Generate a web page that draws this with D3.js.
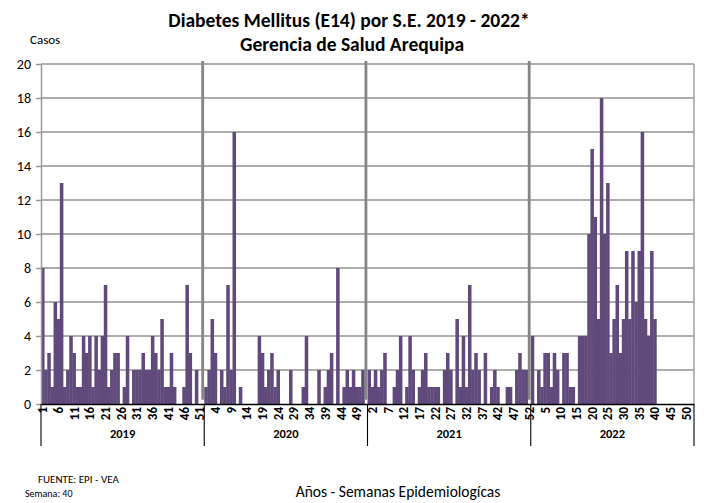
<!DOCTYPE html>
<html>
<head>
<meta charset="utf-8">
<script src="https://cdn.jsdelivr.net/npm/d3@7/dist/d3.min.js"></script>
<style>
  body { margin: 0; background: #fff; }
  text { font-family: Carlito, Calibri, Lato, sans-serif; fill: #000; }
</style>
</head>
<body>
<div id="chart"></div>
<script>
// Data: cases per epidemiological week

const years = ['2019', '2020', '2021', '2022']

const cases2019 = [8, 2, 3, 1, 6, 5, 13, 1, 2, 4,
  3, 1, 1, 4, 3, 4, 1, 4, 2, 4,
  7, 1, 2, 3, 3, 0, 1, 4, 0, 2,
  2, 2, 3, 2, 2, 4, 3, 2, 5, 1,
  1, 3, 1, 0, 0, 1, 7, 3, 0, 2,
  0, 0]

const cases2020 = [1, 2, 5, 3, 0, 2, 1, 7, 2, 16,
  0, 1, 0, 0, 0, 0, 0, 4, 3, 1,
  2, 3, 1, 2, 0, 0, 0, 2, 0, 0,
  0, 1, 4, 0, 0, 0, 2, 0, 1, 2,
  3, 0, 8, 0, 1, 2, 1, 2, 1, 1,
  2, 0]

const cases2021 = [2, 1, 2, 1, 2, 3, 0, 0, 1, 2,
  4, 0, 1, 4, 2, 0, 1, 2, 3, 1,
  1, 1, 1, 0, 2, 3, 2, 0, 5, 1,
  4, 1, 7, 2, 3, 2, 0, 3, 0, 1,
  2, 1, 0, 0, 1, 1, 0, 2, 3, 2,
  2, 0]

// 2022 only up to week 40
const cases2022 = [4, 0, 2, 1, 3, 3, 1, 3, 2, 0,
  3, 3, 1, 1, 0, 4, 4, 4, 10, 15,
  11, 5, 18, 10, 13, 3, 5, 7, 3, 5,
  9, 5, 9, 6, 9, 16, 5, 4, 9, 5]

const yTicks = [0, 2, 4, 6, 8, 10, 12, 14, 16, 18, 20]
const weeksPerYear = 52

const margin = { top: 64, left: 41, right: 10, bottom: 99 }
const width = 704 - margin.left - margin.right
const height = 503 - margin.top - margin.bottom

const svg = d3
  .select('#chart')
  .append('svg')
  .attr('width', 704)
  .attr('height', 503)

const g = svg
  .append('g')
  .attr('transform', 'translate(' + margin.left + ',' + margin.top + ')')

// build one row per week
const allCases = [cases2019, cases2020, cases2021, cases2022]
const datapoints = []
years.forEach(function(year, i) {
  for (let w = 1; w <= weeksPerYear; w++) {
    datapoints.push({
      year: year,
      week: w,
      key: year + '-' + w,
      cases: allCases[i][w - 1]
    })
  }
})

const xPositionScale = d3
  .scaleBand()
  .domain(datapoints.map(d => d.key))
  .range([0, width])
  .padding(0)

const yPositionScale = d3
  .scaleLinear()
  .domain([0, 20])
  .range([height, 0])

const bw = xPositionScale.bandwidth()

// gridlines
g.selectAll('.grid')
  .data(yTicks.filter(d => d > 0))
  .enter()
  .append('line')
  .attr('x1', 0)
  .attr('x2', width)
  .attr('y1', d => yPositionScale(d))
  .attr('y2', d => yPositionScale(d))
  .attr('stroke', '#939393')
  .attr('stroke-width', 1.5)

// right border of plot
g.append('line')
  .attr('x1', width)
  .attr('x2', width)
  .attr('y1', 0)
  .attr('y2', height)
  .attr('stroke', '#a3a3a3')
  .attr('stroke-width', 1.5)

// bars
g.selectAll('.bar')
  .data(datapoints.filter(d => d.cases != null && d.cases > 0))
  .enter()
  .append('rect')
  .attr('class', 'bar')
  .attr('x', d => xPositionScale(d.key))
  .attr('width', bw + 0.4)
  .attr('y', d => yPositionScale(d.cases))
  .attr('height', d => height - yPositionScale(d.cases))
  .attr('fill', '#604a7b')

// gray separators at the last week of each year
g.selectAll('.sep')
  .data(years.slice(0, 3))
  .enter()
  .append('line')
  .attr('x1', d => xPositionScale(d + '-' + weeksPerYear) + bw / 2)
  .attr('x2', d => xPositionScale(d + '-' + weeksPerYear) + bw / 2)
  .attr('y1', yPositionScale(20) - 3)
  .attr('y2', yPositionScale(0.25))
  .attr('stroke', '#858585')
  .attr('stroke-width', 2.8)

// y axis
const yAxis = d3
  .axisLeft(yPositionScale)
  .tickValues(yTicks)
  .tickSize(5)
  .tickSizeOuter(0)
  .tickPadding(5)

g.append('g')
  .attr('class', 'y-axis')
  .call(yAxis)
  .call(a => a.selectAll('line, path').attr('stroke', '#9a9a9a').attr('stroke-width', 1.5))
  .call(a => a.selectAll('text').attr('font-size', 14).attr('fill', '#000'))

// x axis: week numbers every 5th position
const xAxis = d3
  .axisBottom(xPositionScale)
  .tickValues(datapoints.filter((d, i) => i % 5 === 0).map(d => d.key))
  .tickFormat(k => k.split('-')[1])
  .tickSize(0)
  .tickSizeOuter(0)

g.append('g')
  .attr('class', 'x-axis')
  .attr('transform', 'translate(0,' + height + ')')
  .call(xAxis)
  .call(a => a.select('.domain').attr('stroke', '#000').attr('stroke-width', 1.3))
  .call(a =>
    a
      .selectAll('text')
      .attr('transform', 'rotate(-90)')
      .attr('text-anchor', 'end')
      .attr('x', -3)
      .attr('y', 0)
      .attr('dy', '0.36em')
      .attr('font-size', 13)
      .attr('font-weight', 'bold')
  )

// year group dividers and labels
const dividers = years.map(y => xPositionScale(y + '-1')).concat([width])
g.selectAll('.divider')
  .data(dividers)
  .enter()
  .append('line')
  .attr('x1', d => d)
  .attr('x2', d => d)
  .attr('y1', height)
  .attr('y2', height + 42)
  .attr('stroke', '#000')
  .attr('stroke-width', 1.1)

g.selectAll('.year-label')
  .data(years)
  .enter()
  .append('text')
  .text(d => d)
  .attr('x', d => (xPositionScale(d + '-1') + xPositionScale(d + '-' + weeksPerYear) + bw) / 2)
  .attr('y', height + 34)
  .attr('text-anchor', 'middle')
  .attr('font-size', 12.5)
  .attr('font-weight', 'bold')

// titles and notes
svg.append('text')
  .text('Diabetes Mellitus (E14) por S.E. 2019 - 2022*')
  .attr('x', 349)
  .attr('y', 27)
  .attr('text-anchor', 'middle')
  .attr('font-size', 19.5)
  .attr('font-weight', 'bold')

svg.append('text')
  .text('Gerencia de Salud Arequipa')
  .attr('x', 352)
  .attr('y', 51)
  .attr('text-anchor', 'middle')
  .attr('font-size', 19.5)
  .attr('font-weight', 'bold')

svg.append('text')
  .text('Casos')
  .attr('x', 30)
  .attr('y', 44)
  .attr('font-size', 13)

svg.append('text')
  .text('FUENTE: EPI - VEA')
  .attr('x', 38)
  .attr('y', 483)
  .attr('font-size', 11)

svg.append('text')
  .text('Semana: 40')
  .attr('x', 25)
  .attr('y', 497)
  .attr('font-size', 10)

svg.append('text')
  .text('Años - Semanas Epidemiologícas')
  .attr('x', 398)
  .attr('y', 497)
  .attr('text-anchor', 'middle')
  .attr('font-size', 15.5)
</script>
</body>
</html>
